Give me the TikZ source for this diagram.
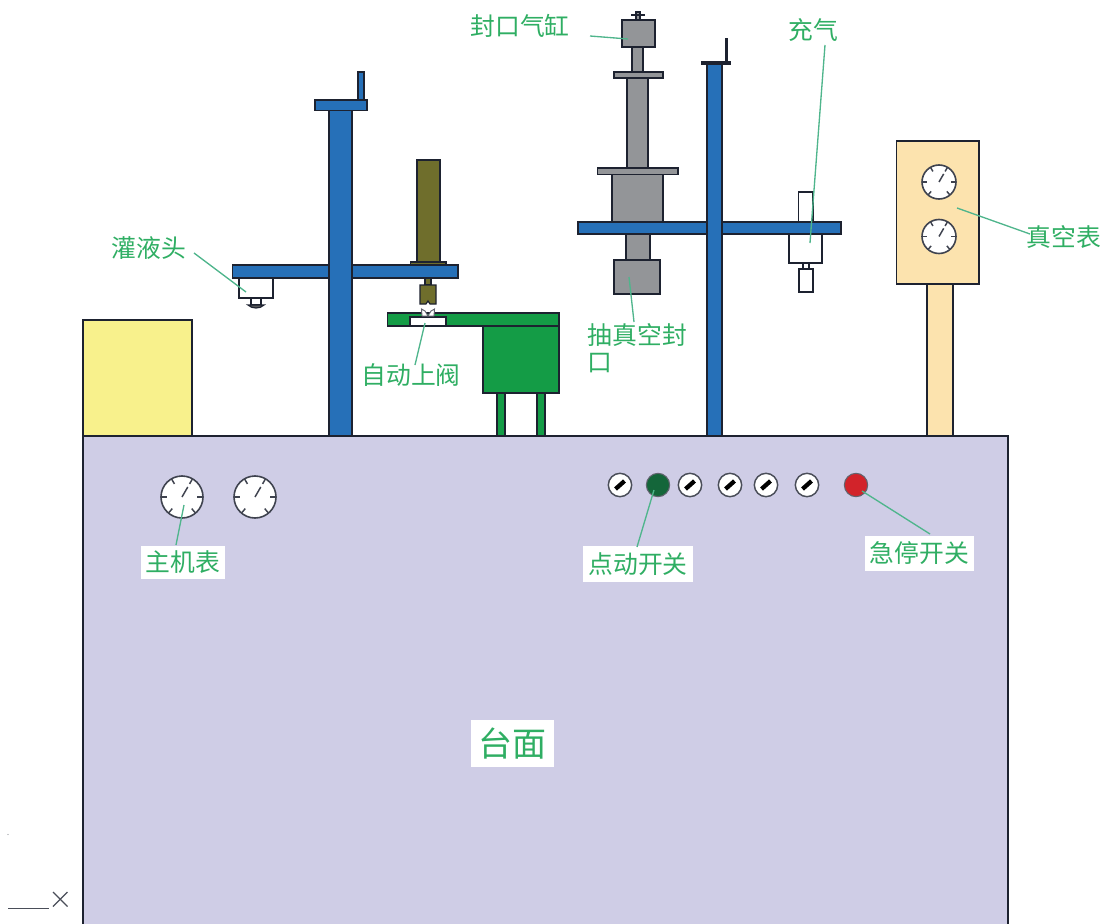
\documentclass[tikz,border=0pt]{standalone}
\usepackage{fontspec}
\newfontfamily\cjk{Noto Sans CJK SC}
\definecolor{tablec}{HTML}{CFCDE6}
\definecolor{yellowc}{HTML}{F8F18C}
\definecolor{bluec}{HTML}{2670B8}
\definecolor{greenc}{HTML}{149C46}
\definecolor{greyc}{HTML}{939598}
\definecolor{olivec}{HTML}{6F6E2C}
\definecolor{creamc}{HTML}{FCE3AE}
\definecolor{linec}{HTML}{1D2230}
\definecolor{textc}{HTML}{2FAE63}
\definecolor{leadc}{HTML}{4FB58C}
\definecolor{darkgreenc}{HTML}{14663A}
\definecolor{redc}{HTML}{D2232A}
\usetikzlibrary{calc}
\newcommand{\gauge}[4]{%
  \node[gaugeface,minimum size=#3*1.5pt] (#4) at (#1,#2) {};
  \foreach \a in {0,60,120,180,230,310}
    \draw[gaugetick] ($(#1,#2)+(\a:#3 and -#3)$) -- ($(#1,#2)+(\a:#3*0.72 and -#3*0.72)$);
  \draw[gaugetick] (#1,#2) -- ($(#1,#2)+(60:#3*0.55 and -#3*0.55)$);
}
\newcommand{\switch}[3]{%
  \node[switchface] (#3) at (#1,#2) {};
  \draw[line width=3.2pt,black] ($(#1,#2)+(-4.5,4)$) -- ($(#1,#2)+(4.5,-4)$);
}
\tikzset{
  part/.style={draw=linec,line width=0.9pt},
  bluepart/.style={part,fill=bluec},
  greenpart/.style={part,fill=greenc},
  greypart/.style={part,fill=greyc},
  olivepart/.style={part,fill=olivec},
  creampart/.style={part,fill=creamc},
  whitepart/.style={part,fill=white},
  gaugeface/.style={circle,draw=linec!85,line width=1.2pt,fill=white,inner sep=0pt},
  gaugetick/.style={draw=linec!85,line width=1.1pt},
  switchface/.style={circle,draw=linec!80,line width=1.1pt,fill=white,inner sep=0pt,minimum size=17.5pt},
  lamp/.style={circle,draw=linec!70,line width=0.8pt,inner sep=0pt,minimum size=17.5pt},
  lab/.style={text=textc,inner sep=0pt,font=\cjk\fontsize{18.6pt}{22pt}\selectfont},
  lead/.style={draw=leadc,line width=1pt},
}
\begin{document}
\begin{tikzpicture}[x=0.75pt,y=-0.75pt]
\useasboundingbox (0,0) rectangle (1111,924);
% table and yellow box
\draw[part,fill=tablec] (83,924) -- (83,436) -- (1008,436) -- (1008,924);
\draw[part,fill=yellowc] (83,320) rectangle (192,436);
% left stand
\draw[bluepart] (358,72) rectangle (364,100);
\draw[bluepart] (232.5,265) rectangle (458,278);
\draw[bluepart] (315,100) rectangle (367,110.5);
\draw[bluepart] (329,110.5) rectangle (352,436);
% filling head
\draw[whitepart] (239,278) rectangle (273,298);
\draw[whitepart] (251,298) rectangle (261,305);
\draw[part,fill=greyc!60!black] (248,305) .. controls (252,309) and (260,309) .. (264,305) -- cycle;
% olive cylinder
\draw[olivepart] (417,160) rectangle (440,262);
\draw[olivepart] (410.5,262) rectangle (446,265);
\draw[olivepart] (425,278) rectangle (431,285);
\draw[olivepart] (420,285) -- (436,285) -- (436,304) -- (430,304) -- (428,301) -- (426,304) -- (420,304) -- cycle;
% green platform
\draw[greenpart] (497,393) rectangle (505,436);
\draw[greenpart] (537,393) rectangle (545,436);
\draw[greenpart] (483,326) rectangle (559,393);
\draw[greenpart] (387.5,313) rectangle (559,326);
\draw[whitepart] (410,317) rectangle (446,326);
% valve
\draw[draw=linec!70,line width=0.7pt,fill=white] (421.5,309) -- (425,311) -- (428,316) -- (431,311) -- (434.5,309) -- (434,316) -- (422,316) -- cycle;
% right stand
\draw[draw=linec,line width=1pt,fill=bluec] (725.5,39) rectangle (727,61);
\draw[draw=linec,fill=linec,line width=0.6pt] (701,61) rectangle (730,64);
% grey sealing cylinder
\draw[greypart] (636,12) rectangle (640,20);
\draw[part,fill=linec] (631.5,14.5) rectangle (644.5,15.5);
\draw[greypart] (622,20) rectangle (655,47);
\draw[greypart] (632,47) rectangle (643,72);
\draw[greypart] (627,78) rectangle (648,168);
\draw[greypart] (614,72) rectangle (663,78);
\draw[greypart] (612,174.5) rectangle (663,222);
\draw[greypart] (597.5,168) rectangle (678,174.5);
\draw[greypart] (626,234) rectangle (650,260);
\draw[greypart] (614,260) rectangle (660,294);
% charging unit
\draw[whitepart] (798.5,192) rectangle (813,222);
\draw[whitepart] (789,234) rectangle (822,263);
\draw[whitepart] (803,263) rectangle (809,269);
\draw[whitepart] (799,269) rectangle (813,292);
% right arm and column
\draw[bluepart] (578,222) rectangle (841,234);
\draw[bluepart] (707,64) rectangle (722,436);
% vacuum gauges
\draw[creampart] (927,284) rectangle (953,436);
\draw[creampart] (896.5,141) rectangle (979,284);
\gauge{939}{182}{17}{vgA}
\gauge{939}{236.5}{17}{vgB}
% panel gauges
\gauge{182}{497}{21}{mgA}
\gauge{255}{497}{21}{mgB}
% switches
\switch{620}{485}{swA}
\node[lamp,fill=darkgreenc] (swB) at (658,485) {};
\switch{690}{485}{swC}
\switch{730}{485}{swD}
\switch{766}{485}{swE}
\switch{807}{485}{swF}
\node[lamp,fill=redc] (swG) at (856,485) {};
% labels
\node[lab] (l1) at (520,26) {封口气缸};
\node[lab] (l2) at (813,30) {充气};
\node[lab] (l3) at (149,248) {灌液头};
\node[lab] (l4) at (1064,237) {真空表};
\node[lab,anchor=west] (l5) at (587.5,335) {抽真空封};
\node[lab,anchor=west] (l5b) at (587.5,363) {口};
\node[lab] (l6) at (411,375) {自动上阀};
\node[lab,fill=white,minimum width=84pt*0.75,minimum height=33pt*0.75] (l7) at (183,562) {主机表};
\node[lab,fill=white,minimum width=110pt*0.75,minimum height=36pt*0.75] (l8) at (638,564) {点动开关};
\node[lab,fill=white,minimum width=109pt*0.75,minimum height=35pt*0.75] (l9) at (919.5,553) {急停开关};
\node[lab,fill=white,minimum width=83pt*0.75,minimum height=47pt*0.75,font=\cjk\fontsize{25.5pt}{30pt}\selectfont] (l10) at (512.5,743.5) {台面};
% leader end points
\coordinate (a1) at (590,36);  \coordinate (b1) at (628,39);
\coordinate (a2) at (825,45);  \coordinate (b2) at (810,243);
\coordinate (a3) at (194,253); \coordinate (b3) at (246,292);
\coordinate (a4) at (1030,234);\coordinate (b4) at (957,208);
\coordinate (a5) at (634,322); \coordinate (b5) at (629,277);
\coordinate (a6) at (415,365); \coordinate (b6) at (425,323);
\coordinate (a7) at (176,545); \coordinate (b7) at (184,505);
\coordinate (a8) at (637,547); \coordinate (b8) at (654,490);
\coordinate (a9) at (930,534); \coordinate (b9) at (862,491);
\foreach \i in {1,...,9} \draw[lead] (a\i) -- (b\i);
% axis remnant
\coordinate (axA) at (8,908.5);
\coordinate (axB) at (48.5,908.5);
\draw[draw=linec!80,line width=1pt] (axA) -- (axB);
\draw[draw=linec!80,line width=0.9pt] (53,892) -- (67.5,906.5);
\draw[draw=linec!80,line width=0.9pt] (67.5,892) -- (53,906.5);
\fill[linec!50] (8,834.5) circle (0.6);
\end{tikzpicture}
\end{document}
